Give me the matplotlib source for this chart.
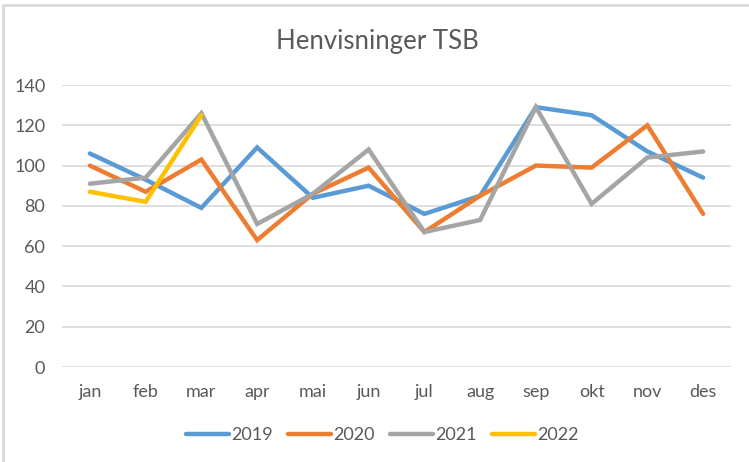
import matplotlib.pyplot as plt
from matplotlib.patches import Rectangle

months = ["jan", "feb", "mar", "apr", "mai", "jun", "jul", "aug", "sep", "okt", "nov", "des"]
v2019 = [106, 93, 79, 109, 84, 90, 76, 85, 129, 125, 107, 94]
v2020 = [100, 87, 103, 63, 86, 99, 67, 85, 100, 99, 120, 76]
v2021 = [91, 94, 126, 71, 86, 108, 67, 73, 129, 81, 104, 107]
v2022 = [87, 82, 125]

series = [("2019", v2019, "#5B9BD5"), ("2020", v2020, "#ED7D31"),
          ("2021", v2021, "#A5A5A5"), ("2022", v2022, "#FFC000")]

plt.rcParams["font.family"] = ["Lato", "DejaVu Sans"]
text_col = "#595959"

fig = plt.figure(figsize=(7.49, 4.62), dpi=100)
ax = fig.add_axes([62 / 749, 1 - 367 / 462, (731 - 62) / 749, (367 - 85) / 462])

x = list(range(len(months)))
for name, vals, col in series:
    ax.plot(x[:len(vals)], vals, color=col, lw=3.2, label=name, solid_capstyle="round",
            solid_joinstyle="miter")

ax.set_xlim(-0.5, len(months) - 0.5)
ax.set_ylim(0, 140)
ax.set_yticks(range(0, 141, 20))
ax.set_xticks(x)
ax.set_xticklabels(months)
ax.grid(axis="y", color="#d9d9d9", lw=1.2)
ax.set_axisbelow(True)
for s in ax.spines.values():
    s.set_visible(False)
ax.tick_params(length=0, colors=text_col, labelsize=13)
ax.tick_params(axis="y", pad=12)
ax.tick_params(axis="x", pad=12)

fig.text(377 / 749, 1 - 42 / 462, "Henvisninger TSB", ha="center", va="center",
         fontsize=18.5, color=text_col)

leg = fig.legend(loc="center", bbox_to_anchor=(382 / 749, 1 - 435 / 462), ncol=4,
                 frameon=False, fontsize=13, handlelength=2.4, handletextpad=0.1,
                 columnspacing=0.85)
for t in leg.get_texts():
    t.set_color(text_col)

fig.patches.append(Rectangle((3 / 749, -0.5), 2, 0.5 + 1 - 5 / 462, transform=fig.transFigure,
                             fill=False, edgecolor="#d9d9d9", lw=2))

fig.savefig("out.png", dpi=100)
